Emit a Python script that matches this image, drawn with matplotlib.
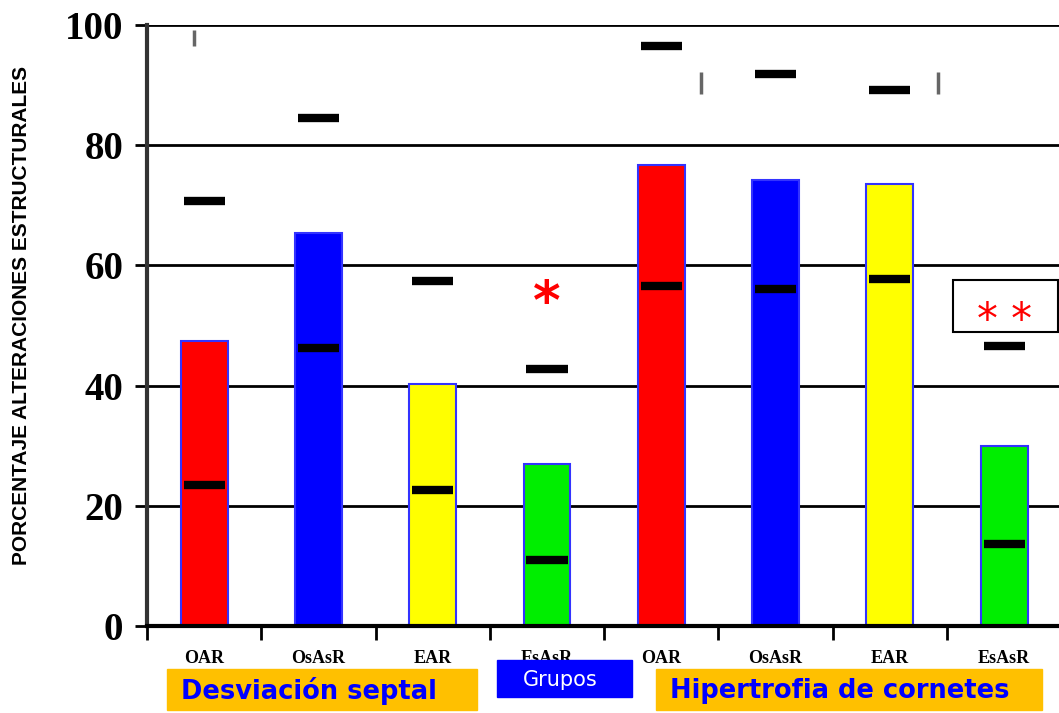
import matplotlib.pyplot as plt
from matplotlib.patches import Rectangle

groups = ["OAR", "OsAsR", "EAR", "EsAsR", "OAR", "OsAsR", "EAR", "EsAsR"]
values = [47.4, 65.4, 40.3, 27.0, 76.7, 74.2, 73.5, 30.0]
upper = [70.7, 84.5, 57.4, 42.8, 96.5, 91.8, 89.2, 46.6]
lower = [23.5, 46.3, 22.6, 11.0, 56.6, 56.1, 57.7, 13.6]
colors = ["#ff0000", "#0000ff", "#ffff00", "#00ee00",
          "#ff0000", "#0000ff", "#ffff00", "#00ee00"]
# small grey vertical marks seen above some groups
mark_x = [-0.09, 4.35, 6.42]
mark_lo = [96.5, 88.6, 88.6]
mark_hi = [99.2, 92.2, 92.2]

serif = "Liberation Serif"

fig = plt.figure(figsize=(10.59, 7.13), dpi=100)
ax = fig.add_axes([147 / 1059, 87 / 713, 1 - 147 / 1059, 601 / 713])

x = list(range(len(groups)))
ax.bar(x, values, width=0.41, color=colors, edgecolor="#3333ff", linewidth=1.5, zorder=2)
ax.hlines(upper, [i - 0.18 for i in x], [i + 0.18 for i in x], color="black", lw=6, zorder=3)
ax.hlines(lower, [i - 0.18 for i in x], [i + 0.18 for i in x], color="black", lw=6, zorder=3)
ax.vlines(mark_x, mark_lo, mark_hi, color="#666666", lw=2.5, zorder=3)

ax.set_xlim(-0.5, 7.48)
ax.set_ylim(0, 100)
ax.set_yticks([0, 20, 40, 60, 80, 100])
ax.set_yticklabels(["0", "20", "40", "60", "80", "100"], fontfamily=serif,
                   fontweight="bold", fontsize=28)
ax.grid(axis="y", color="black", lw=2, zorder=1)
ax.tick_params(axis="y", direction="out", length=9, width=2, pad=8)

ax.set_xticks(x)
ax.set_xticklabels(groups, fontfamily=serif, fontweight="bold", fontsize=13)
ax.set_xticks([i + 0.5 for i in range(-1, 7)], minor=True)
ax.tick_params(axis="x", which="major", length=0, pad=17)
ax.tick_params(axis="x", which="minor", direction="out", length=10, width=2)

for s in ["top", "right"]:
    ax.spines[s].set_visible(False)
ax.spines["left"].set_linewidth(3)
ax.spines["left"].set_color("#333333")
ax.spines["bottom"].set_linewidth(3)

# significance marks
ax.text(3, 53.5, "*", color="red", fontsize=38, fontweight="bold",
        ha="center", va="center", zorder=4)
ax.add_patch(Rectangle((6.55, 48.9), 0.92, 8.7, facecolor="white",
                       edgecolor="black", lw=1.5, zorder=4, clip_on=False))
ax.text(7.0, 50.8, "* *", color="red", fontsize=30, ha="center", va="center", zorder=5)

fig.text(22 / 1059, 1 - 315 / 713, "PORCENTAJE ALTERACIONES ESTRUCTURALES",
         rotation=90, ha="center", va="center", fontsize=15, fontweight="bold",
         fontfamily="Liberation Sans")

# group boxes under the axis
fig.patches.append(Rectangle((167 / 1059, 3 / 713), 310 / 1059, 41 / 713,
                             transform=fig.transFigure, color="#ffc000"))
fig.patches.append(Rectangle((656 / 1059, 3 / 713), 386 / 1059, 41 / 713,
                             transform=fig.transFigure, color="#ffc000"))
fig.patches.append(Rectangle((497 / 1059, 16 / 713), 135 / 1059, 37 / 713,
                             transform=fig.transFigure, color="#0000ff"))
fig.text(181 / 1059, 22 / 713, "Desviación septal", color="#0000ff",
         fontsize=18.5, fontweight="bold", va="center", ha="left")
fig.text(670 / 1059, 22 / 713, "Hipertrofia de cornetes", color="#0000ff",
         fontsize=18.5, fontweight="bold", va="center", ha="left")
fig.text(560 / 1059, 33 / 713, "Grupos", color="white", fontsize=15,
         va="center", ha="center")

fig.savefig("out.png", dpi=100)
